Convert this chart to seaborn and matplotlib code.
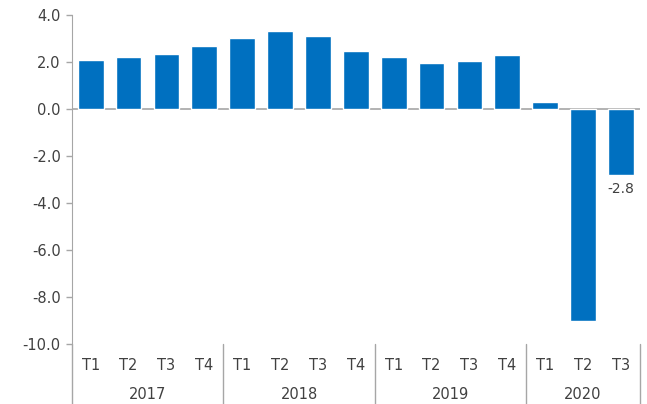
import matplotlib
matplotlib.use("Agg")
import matplotlib.pyplot as plt
import matplotlib.transforms as mtransforms
import seaborn as sns
import pandas as pd

# Data
years = ["2017", "2018", "2019", "2020"]
quarters = ["T1", "T2", "T3", "T4", "T1", "T2", "T3", "T4",
            "T1", "T2", "T3", "T4", "T1", "T2", "T3"]
year_of_bar = ["2017"] * 4 + ["2018"] * 4 + ["2019"] * 4 + ["2020"] * 3
values = [2.1, 2.2, 2.35, 2.7, 3.0, 3.3, 3.1, 2.45,
          2.2, 1.95, 2.05, 2.3, 0.3, -9.0, -2.8]
labelled_bars = [14]

df = pd.DataFrame({"key": [f"{y} {q}" for y, q in zip(year_of_bar, quarters)],
                   "value": values})

sns.set_style("white")
plt.rcParams['font.family'] = ['DejaVu Sans']
text_color = "#404040"
axis_color = "#a6a6a6"

fig = plt.figure(figsize=(6.47, 4.04), dpi=100)
ax = fig.add_axes([0.111, 0.1485, 0.878, 0.8145])

sns.barplot(data=df, x="key", y="value", color="#0070C0", width=0.68,
            saturation=1, ax=ax)

ax.set_xlim(-0.5, len(values) - 0.5)
ax.set_ylim(-10, 4)
ax.set_yticks([4, 2, 0, -2, -4, -6, -8, -10])
ax.set_yticklabels([f"{t:.1f}" for t in ax.get_yticks()], fontsize=10.5, color=text_color)
ax.set_xlabel("")
ax.set_ylabel("")
ax.set_xticks([])

for s in ["top", "right", "bottom"]:
    ax.spines[s].set_visible(False)
ax.spines["left"].set_color(axis_color)
ax.tick_params(axis="y", left=True, length=4, color=axis_color, width=1, pad=4)

# zero line
ax.axhline(0, color=axis_color, lw=1.2, zorder=0)

# value label
for i in labelled_bars:
    ax.annotate(f"{values[i]:.1f}", (i, values[i]), xytext=(0, -5),
                textcoords="offset points", ha="center", va="top",
                fontsize=10, color=text_color)

# two-level category axis
trans = mtransforms.blended_transform_factory(ax.transData, ax.transAxes)
for i, q in enumerate(quarters):
    ax.text(i, -0.065, q, transform=trans, ha="center", va="center",
            fontsize=10.5, color=text_color)

start = 0
bounds = [-0.5]
for y in years:
    n = year_of_bar.count(y)
    center = start + (n - 1) / 2
    ax.text(center, -0.152, y, transform=trans, ha="center", va="center",
            fontsize=10.5, color=text_color)
    start += n
    bounds.append(start - 0.5)

for b in bounds:
    ax.plot([b, b], [0, -0.19], transform=trans, color=axis_color,
            lw=1, clip_on=False)

fig.savefig("out.png", dpi=100)
